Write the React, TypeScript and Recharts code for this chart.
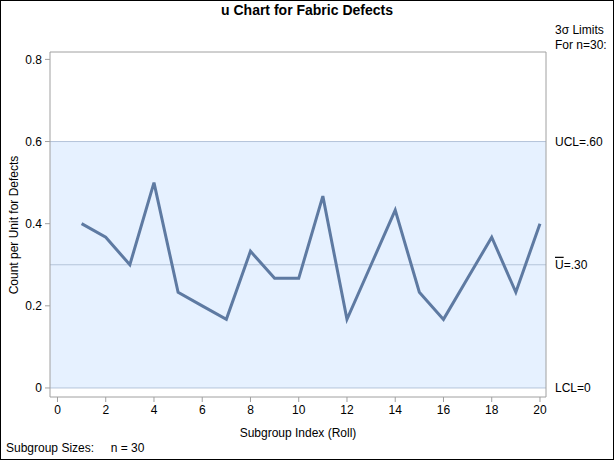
import React from 'react';
import { LineChart, Line, XAxis, YAxis, ReferenceArea, ReferenceLine, Label } from 'recharts';

const subgroups = [1, 2, 3, 4, 5, 6, 7, 8, 9, 10, 11, 12, 13, 14, 15, 16, 17, 18, 19, 20];
const uValues = [0.4, 0.367, 0.3, 0.5, 0.233, 0.2, 0.167, 0.333, 0.267, 0.267, 0.467, 0.167, 0.3, 0.433, 0.233, 0.167, 0.267, 0.367, 0.233, 0.4];
const xTicks = [0, 2, 4, 6, 8, 10, 12, 14, 16, 18, 20];
const yTicks = [0, 0.2, 0.4, 0.6, 0.8];
const UCL = 0.6;
const CENTER = 0.3;
const LCL = 0;
const limitTicks = [LCL, CENTER, UCL];
const limitLabels: Record<string, string> = { '0': 'LCL=0', '0.3': 'U=.30', '0.6': 'UCL=.60' };
const X_DOMAIN: [number, number] = [-0.31, 20.25];
const Y_DOMAIN: [number, number] = [-0.022, 0.818];

const data = subgroups.map((s, i) => ({ x: s, u: uValues[i] }));

const FONT = '"Liberation Sans", Arial, sans-serif';
const BAND = '#E6F1FF';
const REF = '#B4C4DA';
const LINE = '#5E7AA2';
const FRAME = '#A0A0A0';

const RightTick = (props: any) => {
  const { x, y, payload } = props;
  const key = String(Math.round(payload.value * 100) / 100);
  const label = limitLabels[key] ?? '';
  if (key === '0.3') {
    return (
      <text x={x} y={y} dy={4} fontSize={12} fontFamily={FONT} fill="#000" textAnchor="start">
        <tspan style={{ textDecoration: 'overline' }}>U</tspan>
        <tspan>=.30</tspan>
      </text>
    );
  }
  return (
    <text x={x} y={y} dy={4} fontSize={12} fontFamily={FONT} fill="#000" textAnchor="start">
      {label}
    </text>
  );
};

export default function App() {
  return (
    <div style={{ position: 'absolute', left: 0, top: 0, width: 614, height: 460, background: '#fff', fontFamily: FONT }}>
      <LineChart
        width={614}
        height={460}
        data={data}
        margin={{ top: 52, right: 0, bottom: 0, left: 0 }}
      >
        <XAxis
          dataKey="x"
          type="number"
          domain={X_DOMAIN}
          ticks={xTicks}
          allowDataOverflow
          height={63}
          stroke={FRAME}
          tickSize={5}
          tickMargin={3}
          tick={{ fill: '#000', fontSize: 12, fontFamily: FONT }}
        >
          <Label value="Subgroup Index (Roll)" position="insideBottom" offset={23} fill="#000" fontSize={12} fontFamily={FONT} />
        </XAxis>
        <YAxis
          type="number"
          domain={Y_DOMAIN}
          ticks={yTicks}
          allowDataOverflow
          width={50}
          stroke={FRAME}
          tickSize={5}
          tickMargin={3}
          tickFormatter={(v: number) => (v === 0 ? '0' : String(v))}
          tick={{ fill: '#000', fontSize: 12, fontFamily: FONT }}
        />
        <YAxis
          yAxisId="right"
          orientation="right"
          type="number"
          domain={Y_DOMAIN}
          ticks={limitTicks}
          allowDataOverflow
          width={68}
          stroke={FRAME}
          tickLine={false}
          tickSize={6}
          tickMargin={3}
          tick={<RightTick />}
        />
        <ReferenceArea y1={LCL} y2={UCL} fill={BAND} fillOpacity={1} stroke="none" ifOverflow="hidden" />
        <ReferenceLine y={UCL} stroke={REF} strokeWidth={1} />
        <ReferenceLine y={CENTER} stroke={REF} strokeWidth={1} />
        <ReferenceLine y={LCL} stroke={REF} strokeWidth={1} />
        <ReferenceLine y={Y_DOMAIN[1]} stroke={FRAME} strokeWidth={1} ifOverflow="visible" />
        <Line
          type="linear"
          dataKey="u"
          stroke={LINE}
          strokeWidth={3}
          dot={false}
          activeDot={false}
          isAnimationActive={false}
        />
      </LineChart>
      <div style={{ position: 'absolute', left: 0, top: 2, width: 614, textAlign: 'center', fontWeight: 'bold', fontSize: 14, color: '#000' }}>
        u Chart for Fabric Defects
      </div>
      <div style={{ position: 'absolute', left: 555, top: 23, fontSize: 12, lineHeight: '15px', color: '#000', whiteSpace: 'nowrap' }}>
        3σ Limits<br />For n=30:
      </div>
      <div
        style={{
          position: 'absolute',
          left: 14,
          top: 225,
          fontSize: 12,
          color: '#000',
          whiteSpace: 'nowrap',
          transform: 'translate(-50%, -50%) rotate(-90deg)',
        }}
      >
        Count per Unit for Defects
      </div>
      <div style={{ position: 'absolute', left: 6, top: 441, fontSize: 12, color: '#000', whiteSpace: 'pre' }}>
        {'Subgroup Sizes:     n = 30'}
      </div>
      <div style={{ position: 'absolute', left: 0, top: 0, width: 614, height: 460, boxSizing: 'border-box', border: '1px solid #000', pointerEvents: 'none' }} />
    </div>
  );
}
